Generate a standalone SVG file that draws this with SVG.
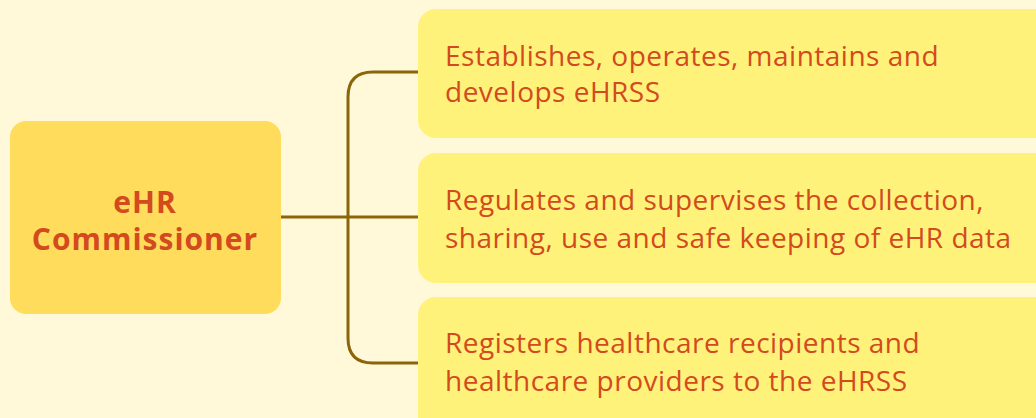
<svg xmlns="http://www.w3.org/2000/svg" width="1036" height="418" viewBox="0 0 1036 418">
<style>
.bg{fill:#FFF9DA}
.main{fill:#FFDC5C}
.leaf{fill:#FFF27B}
.t{font-family:"Open Sans","Noto Sans",sans-serif;fill:#D24A1E}
.tm{font-size:30px;font-weight:bold;text-anchor:middle;letter-spacing:1px}
.tl{font-size:28px;letter-spacing:0.5px}
.c{fill:none;stroke:#8B6508;stroke-width:3}
</style>
<rect class="bg" x="0" y="0" width="1036" height="418"/>
<g id="connectors">
<path class="c" d="M281 217 H418"/>
<path class="c" d="M418 72 H373 Q348 72 348 97 V338 Q348 363 373 363 H418"/>
</g>
<g id="commissioner">
<rect class="main" x="10" y="121" width="271" height="193" rx="16"/>
<text class="t tm" x="145" y="213">eHR</text>
<text class="t tm" x="145" y="250">Commissioner</text>
</g>
<g id="role1">
<rect class="leaf" x="418" y="9" width="640" height="129" rx="18"/>
<text class="t tl" x="445" y="66">Establishes, operates, maintains and</text>
<text class="t tl" x="445" y="102">develops eHRSS</text>
</g>
<g id="role2">
<rect class="leaf" x="418" y="153" width="640" height="130" rx="18"/>
<text class="t tl" x="445" y="210">Regulates and supervises the collection,</text>
<text class="t tl" x="445" y="248">sharing, use and safe keeping of eHR data</text>
</g>
<g id="role3">
<rect class="leaf" x="418" y="297" width="640" height="140" rx="18"/>
<text class="t tl" x="445" y="353">Registers healthcare recipients and</text>
<text class="t tl" x="445" y="391">healthcare providers to the eHRSS</text>
</g>
</svg>
